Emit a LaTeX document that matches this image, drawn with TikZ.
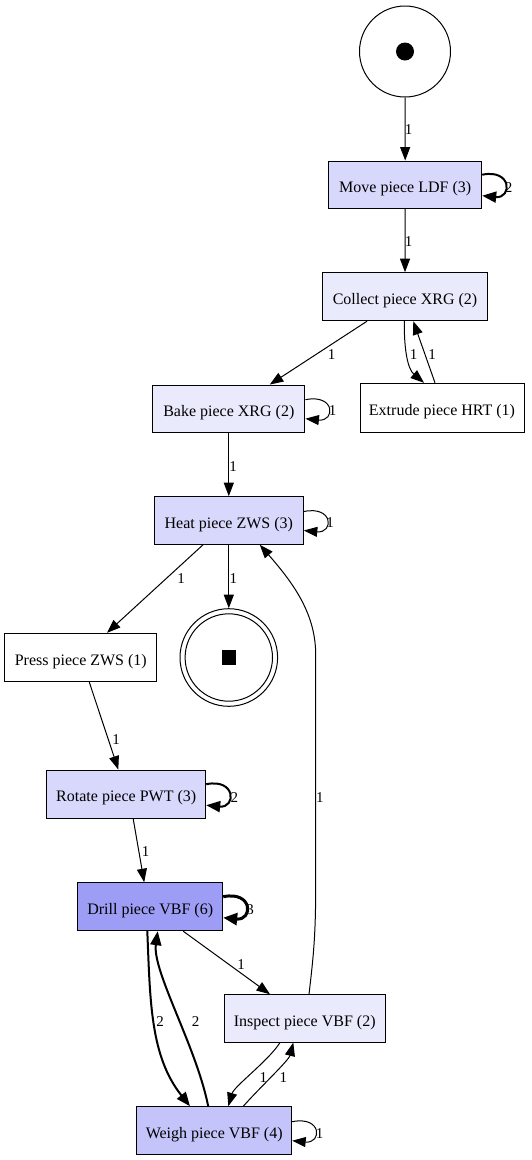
\documentclass[tikz,border=0pt]{standalone}
\usepackage{fontspec}
\setmainfont{Liberation Serif}
\usetikzlibrary{arrows.meta,calc}
\definecolor{cthree}{HTML}{D8D8FC}
\definecolor{ctwo}{HTML}{EAEAFD}
\definecolor{cfour}{HTML}{C4C4FA}
\definecolor{csix}{HTML}{9D9DF6}
\tikzset{
  tr/.style={draw=black, line width=1pt, inner sep=0pt, minimum height=48pt,
    text height=15.5pt, text depth=0pt,
    font=\fontsize{16}{18}\selectfont},
  pl/.style={draw=black, line width=1pt, circle, inner sep=0pt},
  lbl/.style={inner sep=0pt, font=\fontsize{15}{18}\selectfont},
  arc/.style={line width=1pt, -{Triangle[length=13.5pt,width=10pt]}},
  arcb/.style={line width=2pt, -{Triangle[length=14pt,width=11pt]}},
  arcc/.style={line width=3pt, -{Triangle[length=14pt,width=12pt]}},
}
\begin{document}
\begin{tikzpicture}[x=1pt,y=-1pt]
\useasboundingbox (0,0) rectangle (532,1160);
\fill[white] (0,0) rectangle (532,1160);

% places
\node[pl, minimum size=91pt] (start) at (405,51.5) {};
\fill (start.center) circle (9);
\node[pl, minimum size=97.6pt] (endp) at (228.8,657.5) {};
\draw[line width=1pt] (endp.center) circle (43.7);
\fill ($(endp.center)+(-7.3,-7.3)$) rectangle ($(endp.center)+(7.3,7.3)$);

% transitions
\node[tr, fill=cthree, minimum width=153pt, minimum height=47.3pt] (mv) at (405.2,184.7) {Move piece LDF (3)};
\node[tr, fill=ctwo, minimum width=164.6pt] (col) at (405,296.7) {Collect piece XRG (2)};
\node[tr, fill=ctwo, minimum width=152.3pt, minimum height=47.3pt] (bake) at (228.8,408.7) {Bake piece XRG (2)};
\node[tr, fill=white, minimum width=164pt, minimum height=49pt] (ext) at (442,407.8) {Extrude piece HRT (1)};
\node[tr, fill=cthree, minimum width=149pt, minimum height=47.6pt] (heat) at (228.8,520.5) {Heat piece ZWS (3)};
\node[tr, fill=white, minimum width=151.7pt, minimum height=48.4pt] (press) at (80.8,657.5) {Press piece ZWS (1)};
\node[tr, fill=cthree, minimum width=159pt, minimum height=48.3pt] (rot) at (126.2,794.2) {Rotate piece PWT (3)};
\node[tr, fill=csix, minimum width=145pt] (drill) at (150.2,906.7) {Drill piece VBF (6)};
\node[tr, fill=ctwo, minimum width=160.7pt, minimum height=47.3pt] (insp) at (304.7,1018.4) {Inspect piece VBF (2)};
\node[tr, fill=cfour, minimum width=155pt] (weigh) at (214.2,1130.7) {Weigh piece VBF (4)};

% arcs
\draw[arc] (start.south) -- (mv.north);
\draw[arcb] ($(mv.east)+(0,-10)$) .. controls ($(mv.east)+(30,-16)$) and ($(mv.east)+(30,14)$) .. ($(mv.east)+(0,11)$);
\draw[arc] (mv.south) -- (col.north);
\draw[arc] ($(col.south)+(-38,0)$) -- ($(bake.north)+(41,0)$);
\draw[arc] ($(col.south)+(-0.7,0)$) .. controls ($(col.south)+(-1,30)$) and ($(col.south)+(3,48)$) .. ($(ext.north)+(-18,0)$);
\draw[arc] ($(ext.north)+(-7,0)$) -- ($(col.south)+(8.3,0)$);
\draw[arc] ($(bake.east)+(0,-9)$) .. controls ($(bake.east)+(30,-15)$) and ($(bake.east)+(30,13)$) .. ($(bake.east)+(0,10)$);
\draw[arc] (bake.south) -- (heat.north);
\draw[arc] ($(heat.east)+(0,-9)$) .. controls ($(heat.east)+(30,-15)$) and ($(heat.east)+(30,13)$) .. ($(heat.east)+(0,10)$);
\draw[arc] ($(heat.south)+(-25.8,0)$) -- ($(press.north)+(26.2,0)$);
\draw[arc] (heat.south) -- (endp.north);
\draw[arc] ($(insp.north)+(4.3,0)$) .. controls ($(insp.north)+(9,-40)$) and ($(insp.north)+(11,-60)$) .. ($(insp.north)+(11,-110)$)
  -- ($(heat.south)+(86.9,110)$) .. controls ($(heat.south)+(86.9,70)$) and ($(heat.south)+(66,40)$) .. ($(heat.south)+(31,0)$);
\draw[arc] ($(press.south)+(8.5,0)$) -- ($(rot.north)+(-7.9,0)$);
\draw[arcb] ($(rot.east)+(0,-10)$) .. controls ($(rot.east)+(30,-16)$) and ($(rot.east)+(30,14)$) .. ($(rot.east)+(0,11)$);
\draw[arc] ($(rot.south)+(7,0)$) -- ($(drill.north)+(-6,0)$);
\draw[arcc] ($(drill.east)+(0,-10)$) .. controls ($(drill.east)+(30,-16)$) and ($(drill.east)+(30,14)$) .. ($(drill.east)+(0,11)$);
\draw[arc] ($(drill.south)+(33,0)$) -- ($(insp.north)+(-34.7,0)$);
\draw[arcb] ($(drill.south)+(-2.9,0)$) .. controls ($(drill.south)+(0,70)$) and ($(drill.south)+(0,125)$) .. ($(weigh.north)+(-24.2,0)$);
\draw[arcb] ($(weigh.north)+(-6,0)$) .. controls ($(weigh.north)+(-18,-60)$) and ($(drill.south)+(2,40)$) .. ($(drill.south)+(7.5,0)$);
\draw[arc] ($(insp.south)+(-24.7,0)$) .. controls ($(insp.south)+(-36,18)$) and ($(weigh.north)+(20,-20)$) .. ($(weigh.north)+(14.1,0)$);
\draw[arc] ($(weigh.north)+(29.1,0)$) .. controls ($(weigh.north)+(45,-18)$) and ($(insp.south)+(-16,18)$) .. ($(insp.south)+(-11.4,0)$);
\draw[arc] ($(weigh.east)+(0,-9)$) .. controls ($(weigh.east)+(30,-15)$) and ($(weigh.east)+(30,13)$) .. ($(weigh.east)+(0,10)$);

% arc labels
\node[lbl] (l1) at (408.5,130) {1};
\node[lbl] (l2) at (508.5,188) {2};
\node[lbl] (l3) at (408.5,242) {1};
\node[lbl] (l4) at (331.5,355) {1};
\node[lbl] (l5) at (413.7,355) {1};
\node[lbl] (l6) at (432,355) {1};
\node[lbl] (l7) at (332.5,411) {1};
\node[lbl] (l8) at (233,467) {1};
\node[lbl] (l9) at (330,523) {1};
\node[lbl] (l10) at (181,579) {1};
\node[lbl] (l11) at (233.3,579) {1};
\node[lbl] (l12) at (116,740) {1};
\node[lbl] (l13) at (234.3,798) {2};
\node[lbl] (l14) at (319.8,798) {1};
\node[lbl] (l15) at (145.5,852) {1};
\node[lbl] (l16) at (250,909.5) {3};
\node[lbl] (l17) at (241,965) {1};
\node[lbl] (l18) at (160,1021.7) {2};
\node[lbl] (l19) at (195.5,1021.7) {2};
\node[lbl] (l20) at (263.3,1078) {1};
\node[lbl] (l21) at (283.3,1078) {1};
\node[lbl] (l22) at (319.5,1134) {1};
\end{tikzpicture}
\end{document}
